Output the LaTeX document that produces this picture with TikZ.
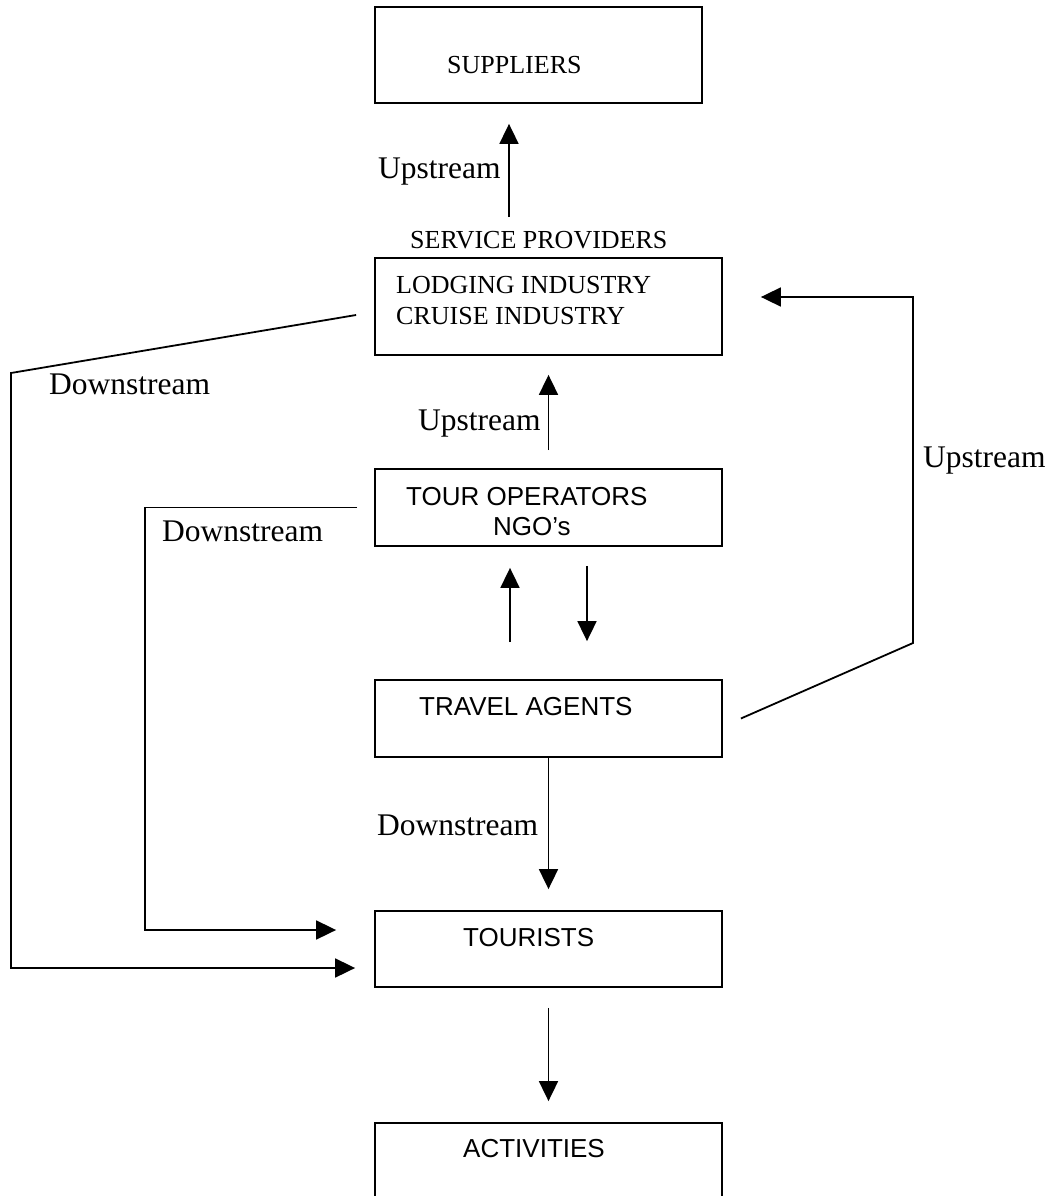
\documentclass[tikz,border=0pt]{standalone}
\usepackage{fontspec}
\setmainfont{Liberation Serif}
\newfontfamily\arialfont{Liberation Sans}
\usetikzlibrary{arrows.meta}

\tikzset{
	kasten/.style={draw, line width=1.8pt, inner sep=0pt},
	kastentext/.style={anchor=base west, inner sep=0pt, font=\fontsize{26pt}{31pt}\selectfont},
	kastensans/.style={anchor=base west, inner sep=0pt, font=\arialfont\fontsize{26pt}{31pt}\selectfont},
	beschriftung/.style={anchor=base west, inner sep=0pt, font=\fontsize{31.5pt}{36pt}\selectfont},
	pfeil/.style={line width=1.8pt, -{Triangle[width=19pt,length=20pt]}}
}

\begin{document}
\begin{tikzpicture}[x=1pt, y=-1pt]
	\path[use as bounding box, fill=white] (0,0) rectangle (1049,1196);
	\clip (0,0) rectangle (1049,1196);

	% Kaesten
	\node[kasten, minimum width=327pt, minimum height=96pt] (suppliers) at (538.5, 55) {};
	\node[kasten, minimum width=347pt, minimum height=97pt] (lodging) at (548.5, 306.5) {};
	\node[kasten, minimum width=347pt, minimum height=77pt] (operators) at (548.5, 507.5) {};
	\node[kasten, minimum width=347pt, minimum height=77pt] (agents) at (548.5, 718.5) {};
	\node[kasten, minimum width=347pt, minimum height=76pt] (tourists) at (548.5, 949) {};
	\node[kasten, minimum width=347pt, minimum height=110pt] (activities) at (548.5, 1178) {};

	% Texte in den Kaesten
	\node[kastentext] (t_suppliers) at (447, 74) {SUPPLIERS};
	\node[kastentext] (t_provider) at (410, 248) {SERVICE PROVIDERS};
	\node[kastentext] (t_lodging) at (396, 293) {LODGING INDUSTRY};
	\node[kastentext] (t_cruise) at (396, 324) {CRUISE INDUSTRY};
	\node[kastensans] (t_operators) at (406, 505) {TOUR OPERATORS};
	\node[kastensans] (t_ngo) at (493, 535) {NGO’s};
	\node[kastensans] (t_agents) at (419, 715) {TRAVEL AGENTS};
	\node[kastensans] (t_tourists) at (463, 946) {TOURISTS};
	\node[kastensans] (t_activities) at (463, 1157) {ACTIVITIES};

	% Beschriftungen
	\node[beschriftung] (up_a) at (378, 178) {Upstream};
	\node[beschriftung] (up_b) at (418, 430) {Upstream};
	\node[beschriftung] (up_c) at (923, 467) {Upstream};
	\node[beschriftung] (down_a) at (49, 394) {Downstream};
	\node[beschriftung] (down_b) at (162, 541) {Downstream};
	\node[beschriftung] (down_c) at (377, 835) {Downstream};

	% Knickpunkte
	\coordinate (knick_links) at (11, 373);
	\coordinate (knick_innen) at (145, 930);
	\coordinate (knick_rechts) at (913, 643);
	\coordinate (fuss_oben) at ([xshift=-39.5pt]lodging.north);

	% Pfeile senkrecht
	\draw[pfeil, shorten <=40pt, shorten >=20pt] (fuss_oben) -- (fuss_oben |- suppliers.south);
	\draw[pfeil, shorten <=18pt, shorten >=19pt] (operators.north) -- (lodging.south);
	\draw[pfeil, shorten <=37pt, shorten >=21pt] ([xshift=-38.5pt]agents.north) -- ([xshift=-38.5pt]operators.south);
	\draw[pfeil, shorten <=19pt, shorten >=38pt] ([xshift=38.5pt]operators.south) -- ([xshift=38.5pt]agents.north);
	\draw[pfeil, shorten >=21pt] (agents.south) -- (tourists.north);
	\draw[pfeil, shorten <=20pt, shorten >=21pt] (tourists.south) -- (activities.north);

	% Pfeile seitlich
	\draw[pfeil, shorten >=19pt] ([xshift=-18pt,yshift=-8.5pt]lodging.west) -- (knick_links) |- ([yshift=-19pt]tourists.west);
	\draw[pfeil, shorten >=38pt] ([xshift=-17pt]operators.west) -| (knick_innen) |- ([yshift=19pt]tourists.west);
	\draw[pfeil, shorten >=38pt] ([xshift=18pt]agents.east) -- (knick_rechts) |- ([yshift=9.5pt]lodging.east);
\end{tikzpicture}
\end{document}
